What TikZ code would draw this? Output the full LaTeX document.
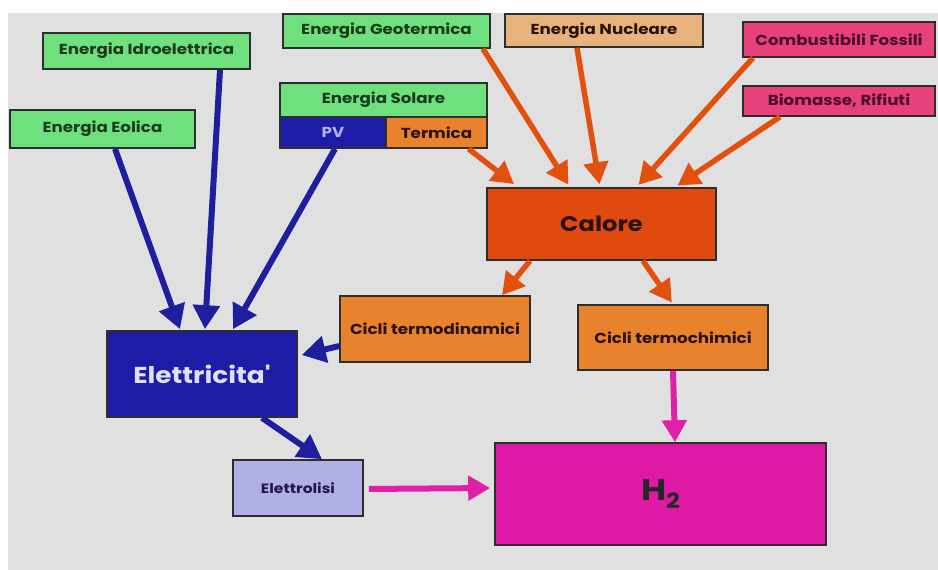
\documentclass[tikz,border=0pt]{standalone}
\usepackage{fontspec}
\setmainfont{Poppins}
\newfontfamily\labelfont{Poppins}[FakeStretch=1.15]
\usetikzlibrary{arrows.meta}

\definecolor{bggray}{HTML}{E0E0E0}
\definecolor{boxline}{HTML}{2E2E2E}
\definecolor{greenfill}{HTML}{6EE07E}
\definecolor{greentext}{HTML}{1C3A1C}
\definecolor{tanfill}{HTML}{E8B27C}
\definecolor{pinkfill}{HTML}{E8407C}
\definecolor{pinktext}{HTML}{4A0E26}
\definecolor{calorefill}{HTML}{E04A0E}
\definecolor{ciclifill}{HTML}{E8822C}
\definecolor{bluefill}{HTML}{1C1CA6}
\definecolor{lavfill}{HTML}{B0B0E6}
\definecolor{h2fill}{HTML}{E018A6}
\definecolor{bluearrow}{HTML}{1E1E9E}
\definecolor{orangearrow}{HTML}{E2500E}
\definecolor{magarrow}{HTML}{E020A8}
\definecolor{darktext}{HTML}{2A1208}

\tikzset{
  box/.style={draw=boxline, line width=1.6pt, inner sep=0pt, font=\labelfont\bfseries\fontsize{14.5}{15}\selectfont},
  greenbox/.style={box, fill=greenfill, text=greentext},
  pinkbox/.style={box, fill=pinkfill, text=pinktext},
  barrow/.style={draw=bluearrow, line width=6pt, -{Triangle[length=24pt,width=26pt]}},
  oarrow/.style={draw=orangearrow, line width=5.5pt, -{Triangle[length=22pt,width=24pt]}},
  marrow/.style={draw=magarrow, line width=6pt, -{Triangle[length=22pt,width=24pt]}},
}

\begin{document}
\begin{tikzpicture}[x=1pt, y=-1pt]
  % page and grey backdrop
  \fill[white] (0,0) rectangle (938,570);
  \fill[bggray] (8,13) rectangle (938,570);

  % energy sources
  \node[greenbox, minimum width=207pt, minimum height=36pt] (idro) at (146.5,51) {Energia Idroelettrica};
  \node[greenbox, minimum width=185pt, minimum height=38pt] (eolica) at (102.5,129) {Energia Eolica};
  \node[greenbox, minimum width=207pt, minimum height=34pt] (geo) at (386.5,31) {Energia Geotermica};
  \node[box, fill=tanfill, text=darktext, minimum width=198pt, minimum height=33pt] (nucl) at (604,30.5) {Energia Nucleare};
  \node[greenbox, minimum width=207pt, minimum height=34pt] (solare) at (383.5,100) {Energia Solare};
  \node[box, fill=bluefill, text=lavfill, minimum width=106pt, minimum height=31pt] (pv) at (333,132.5) {PV};
  \node[box, fill=ciclifill, text=darktext, minimum width=101pt, minimum height=31pt] (termica) at (436.5,132.5) {Termica};
  \node[pinkbox, minimum width=192pt, minimum height=35pt] (comb) at (839,39.5) {Combustibili Fossili};
  \node[pinkbox, minimum width=192pt, minimum height=30pt] (bio) at (839,101) {Biomasse, Rifiuti};

  % conversion stages
  \node[box, fill=calorefill, text=darktext, minimum width=229pt, minimum height=72pt, font=\labelfont\bfseries\fontsize{21}{22}\selectfont] (calore) at (601.5,224) {Calore};
  \node[box, fill=ciclifill, text=darktext, minimum width=190pt, minimum height=66pt] (thermo) at (435,329) {Cicli termodinamici};
  \node[box, fill=ciclifill, text=darktext, minimum width=190pt, minimum height=65pt] (thchem) at (673,337.5) {Cicli termochimici};
  \node[box, fill=bluefill, text=lavfill!40!white, minimum width=190pt, minimum height=86pt, font=\labelfont\bfseries\fontsize{23}{24}\selectfont] (elet) at (202,374) {Elettricita'};
  \node[box, fill=lavfill, text=darktext!60!bluefill, minimum width=130pt, minimum height=56pt, font=\labelfont\bfseries\fontsize{13.5}{14}\selectfont] (elettrolisi) at (298,488) {Elettrolisi};
  \node[box, fill=h2fill, text=black!85, minimum width=331pt, minimum height=102pt, font=\labelfont\bfseries\fontsize{30}{32}\selectfont] (h2) at (660.5,494) {H\raisebox{-0.25em}{\fontsize{21}{22}\selectfont 2}};

  % electricity paths
  \draw[barrow] ([xshift=12.5pt]eolica.south) -- ([xshift=-22pt,yshift=1pt]elet.north);
  \draw[barrow] ([xshift=73.5pt]idro.south) -- ([xshift=3pt,yshift=1pt]elet.north);
  \draw[barrow] ([xshift=2pt]pv.south) -- ([xshift=31pt,yshift=1pt]elet.north);
  \draw[barrow, shorten >=4pt] ([yshift=-17pt]thermo.west) -- ([yshift=18pt]elet.east);
  \draw[barrow] ([xshift=60pt]elet.south) -- ([xshift=24pt]elettrolisi.north);

  % heat paths
  \draw[oarrow, shorten >=5pt] ([xshift=32pt]termica.south) -- ([xshift=-83.5pt]calore.north);
  \draw[oarrow, shorten >=3pt] ([xshift=96.5pt]geo.south) -- ([xshift=-31.5pt]calore.north);
  \draw[oarrow, shorten >=3pt] ([xshift=-27pt]nucl.south) -- ([xshift=-1.5pt]calore.north);
  \draw[oarrow, shorten >=3pt] ([xshift=-86pt]comb.south) -- ([xshift=35pt]calore.north);
  \draw[oarrow, shorten >=3pt] ([xshift=-59pt]bio.south) -- ([xshift=73.5pt]calore.north);
  \draw[oarrow] ([xshift=-71.5pt]calore.south) -- ([xshift=67pt]thermo.north);
  \draw[oarrow, shorten >=2pt] ([xshift=41.5pt]calore.south) -- ([xshift=0pt]thchem.north);

  % hydrogen paths
  \draw[marrow] (thchem.south) -- ([xshift=14.5pt]h2.north);
  \draw[marrow, shorten <=5pt, shorten >=4pt] ([yshift=-1pt]elettrolisi.east) -- ([yshift=6pt]h2.west);
\end{tikzpicture}
\end{document}
